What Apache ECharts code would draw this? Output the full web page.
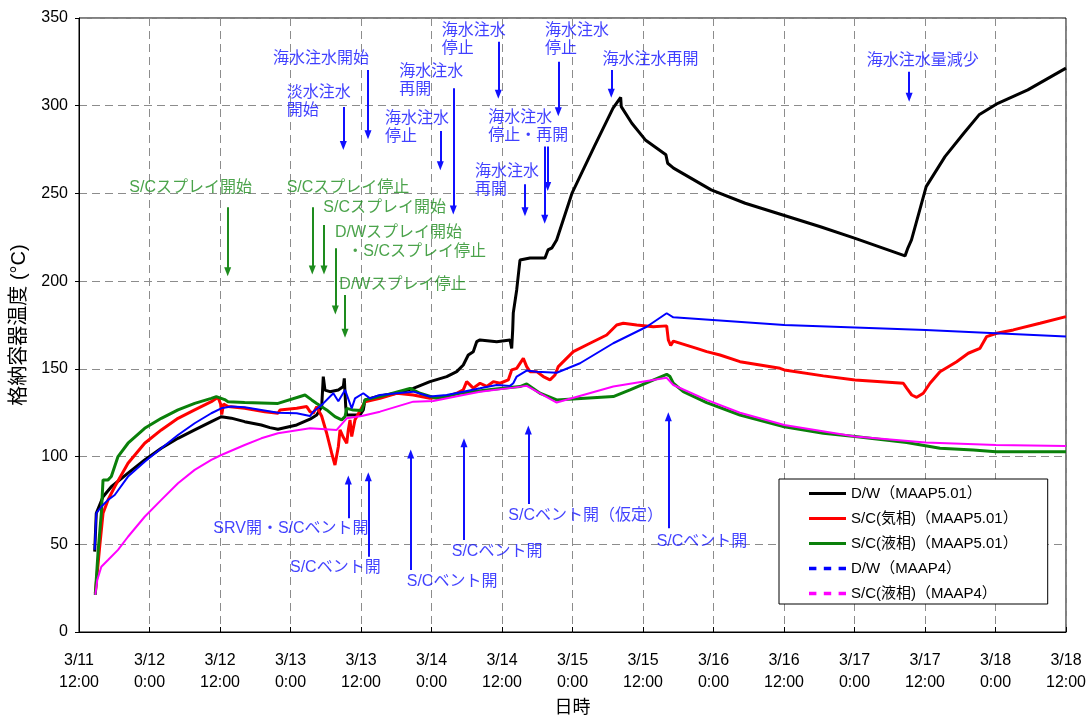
<!DOCTYPE html>
<html>
<head>
<meta charset="utf-8">
<script src="https://cdn.jsdelivr.net/npm/echarts@6/dist/echarts.min.js"></script>
<style>
  html, body { margin: 0; padding: 0; background: #fff; }
  #chart { width: 1092px; height: 716px; }
</style>
</head>
<body>
<div id="chart"></div>
<script>
// hours from 3/11 12:00, temperature in degC
var tickLabels = ['3/11\n12:00', '3/12\n0:00', '3/12\n12:00', '3/13\n0:00', '3/13\n12:00',
    '3/14\n0:00', '3/14\n12:00', '3/15\n0:00', '3/15\n12:00', '3/16\n0:00', '3/16\n12:00',
    '3/17\n0:00', '3/17\n12:00', '3/18\n0:00', '3/18\n12:00'];

var seriesNames = ['D/W（MAAP5.01）', 'S/C(気相)（MAAP5.01）', 'S/C(液相)（MAAP5.01）', 'D/W（MAAP4）', 'S/C(液相)（MAAP4）'];

var dwMaap5 = [[2.67,45.8],[2.94,67.7],[4.09,77.1],[5.5,82.8],[8.34,90.6],[11.18,98.1],[14.0,104.7],[16.85,110.4],
    [19.69,115.2],[22.52,119.9],[24.22,122.7],[25.92,121.9],[28.2,119.9],[31.03,118],[32.5,116.5],[33.87,115.6],
    [37.06,118],[39.32,121.3],[40.46,123.7],[41.31,128.4],[41.58,145.6],[41.87,137.9],[42.72,137],[44.14,138],
    [44.99,139.9],[45.16,144.6],[45.4,128.4],[45.57,123.7],[47.83,123.7],[48.39,126.6],[48.68,132.3],[50.67,134.2],
    [54.08,136.1],[56.9,138.9],[59.74,142.7],[62.59,145.6],[64.29,148.4],[65.41,152.2],[66.26,157.9],[67.11,159.8],
    [67.69,165.5],[68.26,166.5],[71.1,165.5],[73.36,166.5],[73.65,161.7],[73.82,172.2],[73.92,181.9],[74.5,195],
    [75.06,212],[76.77,213.2],[79.32,213.2],[79.83,217.8],[80.51,219],[81.3,223.5],[83.9,250],[87.7,276.7],
    [90.9,298.6],[92.2,304.8],[92.3,299.5],[94.1,290],[96.4,280.5],[99.9,272],[100.2,267.2],[101.2,264.4],
    [107.6,252],[113.4,244.4],[119.8,237.7],[126.2,231],[132,224.5],[140.6,214.4],[141.1,219],[141.7,223.5],
    [144.2,253.9],[147.4,271],[150.6,284.3],[153.2,294.8],[156.4,301.4],[161.5,309],[168,321.4]];

var scGasMaap5 = [[2.77,22],[3.52,48.6],[4.09,67.7],[4.94,75.3],[6.08,82.8],[8.34,96.2],[11.18,107.6],[14.01,115.2],
    [16.85,121.8],[19.69,126.6],[22.52,131.3],[23.66,133.8],[24.1,130],[24.3,124],[24.6,130],[25.36,128.5],
    [28.2,127.5],[31.61,125.6],[33.87,124.7],[34.21,126.6],[37.06,127.5],[38.76,128.5],[39.32,125.6],[39.88,124.7],
    [40.46,128.5],[41.31,123],[42.16,113.3],[43.01,101.9],[43.57,95.2],[44.14,105.6],[44.43,115.2],[44.99,111],
    [45.57,107.6],[45.84,115.2],[46.13,120.9],[46.42,111.4],[46.98,121],[48.68,131.3],[51.23,133.2],[54.08,136.1],
    [56.9,135.1],[59.74,133.2],[62.59,134.2],[64.29,136.1],[65.41,138],[65.99,142.7],[67.11,139],[68.26,141.8],
    [69.4,140],[70.52,142.7],[71.66,141.8],[73.07,143.7],[73.65,149.4],[74.5,150.3],[75.63,156],[76.2,151.3],
    [76.77,148.4],[77.91,148.4],[79.03,145.6],[80.17,143.7],[81.02,146.5],[81.58,151.3],[84.14,159.8],[86.98,164.6],
    [89.82,169.3],[91.52,175],[92.65,176],[94.93,175],[97.75,174],[100.03,174.5],[100.31,166.5],[100.71,163.3],
    [101.16,165.8],[105.14,161.7],[106.84,159.8],[109.11,157.9],[112.51,154.1],[119.32,150.3],[120.05,149.4],
    [126.69,146],[132.09,143.7],[140.31,141.8],[140.88,139],[141.74,135.1],[142.59,133.8],[143.71,136.1],
    [144.85,141.8],[146.55,148.4],[149.39,154.1],[151.37,158.9],[153.36,161.7],[154.5,168.4],[156.2,170.3],
    [159.03,172.2],[163.57,176],[168,179.8]];

var scLiqMaap5 = [[2.77,21.1],[3.23,44.9],[3.8,67.7],[4.09,86.7],[4.94,86.7],[5.5,88.6],[6.64,100],[8.34,107.6],
    [11.18,116.1],[14.01,121.8],[16.85,126.6],[19.69,130.3],[22.52,133.2],[23.37,134.2],[24.8,132.5],[25.36,131.3],
    [28.2,130.8],[33.87,130.3],[34.21,131.3],[38.47,135.1],[39.61,132.3],[40.46,130.3],[42.16,126.6],[43.57,122.8],
    [44.71,120.9],[45.28,122.8],[45.57,127.5],[46.69,126.5],[48.12,126.2],[48.68,132.3],[51.23,134.2],[56.34,138.9],
    [58.04,136.1],[60.89,133.2],[64.85,136.1],[70.52,138.4],[75.06,139.9],[76.2,141.4],[78.47,136.1],[81.31,132.3],
    [90.94,134.2],[93.79,138],[100.03,146.9],[100.6,145.6],[101.16,141.8],[102.86,137],[106.84,130.8],[112.51,123.7],
    [120.05,117],[126.69,113.3],[132.09,111.4],[140.88,108],[146.55,104.7],[152.22,103.8],[156.09,102.8],[168,102.8]];

var dwMaap4 = [[2.67,46.8],[2.94,67.7],[3.8,71.4],[4.94,75.3],[6.08,78.1],[8.34,88.6],[11.18,97.1],[14.01,104.7],
    [16.85,112.3],[19.69,119],[22.52,124.7],[24.22,127.5],[25.92,128.5],[28.2,128.1],[31.03,126.6],[33.87,125],
    [37.06,124.7],[39.32,123.1],[39.88,125.6],[41.58,130.3],[43.29,136.1],[44.14,131.5],[45.28,138],[46.42,127.5],
    [46.98,133.2],[48.39,136.1],[49.53,133.2],[51.23,135.1],[54.08,136.1],[56.9,137],[59.74,134.2],[62.59,135.1],
    [65.41,137],[68.26,138.9],[71.1,140.8],[73.36,140.3],[73.92,141.8],[74.5,145.6],[76.2,149],[77.91,148.4],
    [81.31,147.8],[85.28,153.2],[90.94,164.6],[96.63,174],[100.03,181.7],[101.16,179.4],[120.05,175],[144.11,172.2],
    [168,168.4]];

var scLiqMaap4 = [[2.77,21.1],[3.11,29.6],[3.8,37.2],[4.94,41],[6.64,46.8],[8.34,54.3],[11.18,65.7],[14.01,75.3],
    [16.85,84.8],[19.69,92.4],[22.52,98.1],[24.22,100.9],[28.2,106.6],[31.03,110.4],[33.87,113.3],[39.32,116.1],
    [43.86,115.2],[45.57,121.8],[48.12,123.1],[51.23,125.6],[56.9,131.3],[60.31,131.7],[65.41,135.1],[68.26,137],
    [73.92,139.3],[76.2,140.3],[81.31,130.8],[90.94,139.9],[100.03,144.9],[101.16,140.8],[106.84,132.3],
    [112.51,125],[120.05,118],[132.09,111.4],[144.11,108],[156.09,106.6],[168,106]];

// annotations: [hours, temp of text top-left, text]
var blueNotes = [[33.02,331.8,'海水注水開始'],[35.35,312.6,'淡水注水\n開始'],[52.09,297.6,'海水注水\n停止'],
    [54.52,324.6,'海水注水\n再開'],[61.74,348,'海水注水\n停止'],[69.67,298.6,'海水注水\n停止・再開'],
    [67.4,267.6,'海水注水\n再開'],[79.32,348,'海水注水\n停止'],[89.12,331.2,'海水注水再開'],
    [134.1,330.8,'海水注水量減少'],
    [22.86,63.9,'SRV開・S/Cベント開'],[35.91,42,'S/Cベント開'],[55.78,33.8,'S/Cベント開'],
    [63.44,50.9,'S/Cベント開'],[73.07,71.4,'S/Cベント開（仮定）'],[98.33,56.6,'S/Cベント開']];
// arrows: [hours, from temp, to temp] (head at "to")
var blueArrows = [[49.19,320.4,283.4],[44.99,299.3,277.3],[61.5,285.6,265.8],[63.71,310,240.6],[71.37,336.5,306.6],
    [79.78,276.7,253.9],[79.27,276.7,235.3],[75.91,255.2,239.6],[81.58,325.1,296.6],[90.6,320.4,307.1],
    [141.3,319.4,304.8],
    [45.84,64.8,86.7],[49.24,42.9,88.5],[56.46,35.3,101.5],[65.53,52.5,107.9],[76.48,73,115.2],[100.31,59.1,122.7]];

var greenNotes = [[8.56,258.7,'S/Cスプレイ開始'],[35.35,258.7,'S/Cスプレイ停止'],[41.58,247.3,'S/Cスプレイ開始'],
    [43.57,232.8,'D/Wスプレイ開始'],[45.67,222,'・S/Cスプレイ停止'],[44.31,203,'D/Wスプレイ停止']];
var greenArrows = [[25.31,242.1,205.4],[39.71,242.1,206.4],[41.7,232,206.4],[43.63,218.8,183.6],[45.28,192.1,170.3]];

var FONT = "'Liberation Sans', Arial, 'Noto Sans CJK JP', sans-serif";
var SOLID_ICON = 'path://M0,0H37V3H0Z';
var DASH_ICON = 'path://M0,0H6V3H0Z M12,0H18V3H12Z M24,0H30V3H24Z';

function noteSeries(notes, arrows, color) {
    return {
        type: 'scatter',
        symbolSize: 0,
        silent: true,
        z: 5,
        data: notes.map(function (n) { return { value: [n[0], n[1]], name: n[2] }; }),
        label: {
            show: true,
            position: [0, 0],
            align: 'left',
            verticalAlign: 'top',
            formatter: '{b}',
            color: color,
            fontSize: 16,
            lineHeight: 18,
            fontFamily: FONT
        },
        markLine: {
            silent: true,
            symbol: ['none', 'triangle'],
            symbolSize: [7, 9],
            label: { show: false },
            lineStyle: { color: color, width: 2, type: 'solid' },
            data: arrows.map(function (a) {
                return [{ coord: [a[0], a[1]] }, { coord: [a[0], a[2]] }];
            })
        }
    };
}

function lineSeries(name, data, color, width) {
    return {
        name: name,
        type: 'line',
        data: data,
        symbol: 'none',
        silent: true,
        lineStyle: { color: color, width: width },
        itemStyle: { color: color }
    };
}

var chart = echarts.init(document.getElementById('chart'), null, { renderer: 'canvas' });

chart.setOption({
    animation: false,
    backgroundColor: '#fff',
    grid: {
        left: 79, right: 26, top: 18, bottom: 84,
        outerBoundsMode: 'none',
        show: true, borderColor: '#000', borderWidth: 1
    },
    legend: {
        orient: 'vertical',
        left: 779,
        top: 479,
        backgroundColor: '#fff',
        borderColor: '#000',
        borderWidth: 1,
        borderRadius: 0,
        padding: [7, 30, 3, 30],
        itemGap: 10,
        itemWidth: 37,
        itemHeight: 15,
        textStyle: { fontSize: 15, color: '#000', fontFamily: FONT },
        data: [
            { name: seriesNames[0], icon: SOLID_ICON },
            { name: seriesNames[1], icon: SOLID_ICON },
            { name: seriesNames[2], icon: SOLID_ICON },
            { name: seriesNames[3], icon: DASH_ICON },
            { name: seriesNames[4], icon: DASH_ICON }
        ]
    },
    xAxis: {
        type: 'value',
        min: 0,
        max: 168,
        interval: 12,
        name: '日時',
        nameLocation: 'middle',
        nameGap: 63,
        nameTextStyle: { fontSize: 18, color: '#000', fontFamily: FONT },
        axisLine: { lineStyle: { color: '#000', width: 1 } },
        axisTick: { inside: true, length: 5, lineStyle: { color: '#000' } },
        axisLabel: {
            fontSize: 16,
            lineHeight: 22,
            color: '#000',
            margin: 18,
            fontFamily: FONT,
            formatter: function (v) { return tickLabels[Math.round(v / 12)]; }
        },
        splitLine: { show: true, lineStyle: { color: '#8c8c8c', type: [8, 5], width: 1 } }
    },
    yAxis: {
        type: 'value',
        min: 0,
        max: 350,
        interval: 50,
        name: '格納容器温度 (°C)',
        nameLocation: 'middle',
        nameGap: 50,
        nameRotate: 90,
        nameTextStyle: { fontSize: 20, color: '#000', fontFamily: FONT },
        axisLine: { show: true, lineStyle: { color: '#000', width: 1 } },
        axisTick: { show: true, inside: false, length: 4, lineStyle: { color: '#000' } },
        axisLabel: { fontSize: 16, color: '#000', margin: 11, fontFamily: FONT },
        splitLine: { show: true, lineStyle: { color: '#8c8c8c', type: [8, 5], width: 1 } }
    },
    series: [
        lineSeries(seriesNames[0], dwMaap5, '#000000', 3),
        lineSeries(seriesNames[1], scGasMaap5, '#ff0000', 3),
        lineSeries(seriesNames[2], scLiqMaap5, '#0a800a', 3),
        lineSeries(seriesNames[3], dwMaap4, '#0000ff', 2),
        lineSeries(seriesNames[4], scLiqMaap4, '#ff00ff', 2),
        noteSeries(blueNotes, blueArrows, '#1010ff'),
        noteSeries(greenNotes, greenArrows, '#1e8c1e')
    ]
});
</script>
</body>
</html>
